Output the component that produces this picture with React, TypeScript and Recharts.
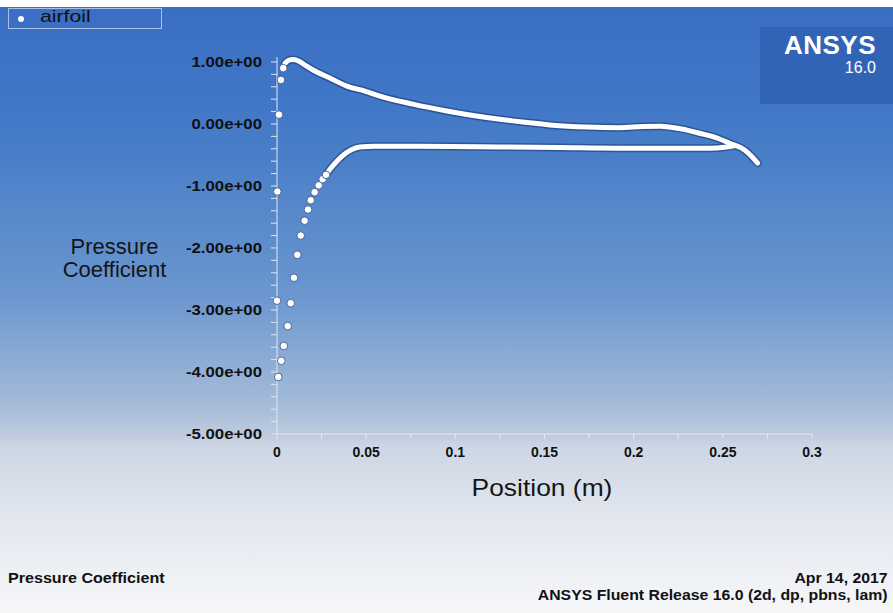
import { ScatterChart, Scatter, XAxis, YAxis } from "recharts";

// leading edge points, drawn as separate dots (x in m, Cp)
const leadingEdgeDots = [
  { x: 0.0035, y: 0.9 },
  { x: 0.0022, y: 0.71 },
  { x: 0.0011, y: 0.15 },
  { x: 0.0002, y: -1.09 },
  { x: 0.0, y: -2.85 },
  { x: 0.0007, y: -4.08 },
  { x: 0.0024, y: -3.82 },
  { x: 0.0038, y: -3.58 },
  { x: 0.006, y: -3.26 },
  { x: 0.0077, y: -2.89 },
  { x: 0.0095, y: -2.48 },
  { x: 0.0114, y: -2.11 },
  { x: 0.0133, y: -1.8 },
  { x: 0.0155, y: -1.56 },
  { x: 0.0174, y: -1.38 },
  { x: 0.0189, y: -1.23 },
  { x: 0.0211, y: -1.1 },
  { x: 0.0234, y: -0.99 },
  { x: 0.0256, y: -0.89 },
  { x: 0.0275, y: -0.82 },
];

// dense part of the lower (suction) curve
const suctionSide = [
  { x: 0.0275, y: -0.82 },
  { x: 0.0297, y: -0.73 },
  { x: 0.0336, y: -0.6 },
  { x: 0.0381, y: -0.48 },
  { x: 0.042, y: -0.41 },
  { x: 0.0465, y: -0.37 },
  { x: 0.0549, y: -0.36 },
  { x: 0.0801, y: -0.36 },
  { x: 0.1249, y: -0.37 },
  { x: 0.1585, y: -0.38 },
  { x: 0.1922, y: -0.39 },
  { x: 0.2258, y: -0.39 },
  { x: 0.2426, y: -0.39 },
  { x: 0.2521, y: -0.37 },
  { x: 0.2566, y: -0.35 },
];

// dense part of the upper (pressure) curve, including the trailing edge
const pressureSide = [
  { x: 0.0045, y: 0.98 },
  { x: 0.0067, y: 1.03 },
  { x: 0.009, y: 1.04 },
  { x: 0.0118, y: 1.02 },
  { x: 0.0157, y: 0.95 },
  { x: 0.0202, y: 0.87 },
  { x: 0.0297, y: 0.74 },
  { x: 0.0392, y: 0.61 },
  { x: 0.0493, y: 0.53 },
  { x: 0.0577, y: 0.45 },
  { x: 0.0762, y: 0.32 },
  { x: 0.0952, y: 0.21 },
  { x: 0.1137, y: 0.12 },
  { x: 0.1322, y: 0.05 },
  { x: 0.1417, y: 0.02 },
  { x: 0.1546, y: -0.02 },
  { x: 0.1737, y: -0.05 },
  { x: 0.1922, y: -0.06 },
  { x: 0.205, y: -0.04 },
  { x: 0.215, y: -0.035 },
  { x: 0.2269, y: -0.08 },
  { x: 0.237, y: -0.15 },
  { x: 0.2471, y: -0.23 },
  { x: 0.2538, y: -0.31 },
  { x: 0.2622, y: -0.42 },
  { x: 0.2661, y: -0.52 },
  { x: 0.2695, y: -0.63 },
];

const xTicks = [0, 0.025, 0.05, 0.075, 0.1, 0.125, 0.15, 0.175, 0.2, 0.225, 0.25, 0.275, 0.3];
const yTicks = [
  -5, -4.8, -4.6, -4.4, -4.2, -4, -3.8, -3.6, -3.4, -3.2, -3, -2.8, -2.6, -2.4, -2.2, -2,
  -1.8, -1.6, -1.4, -1.2, -1, -0.8, -0.6, -0.4, -0.2, 0, 0.2, 0.4, 0.6, 0.8, 1,
];

const FONT = "Arial, 'Liberation Sans', sans-serif";

const isMultiple = (v: number, step: number) =>
  Math.abs(v / step - Math.round(v / step)) < 1e-6;

const formatY = (v: number) => {
  if (!isMultiple(v, 1)) return "";
  const n = Math.round(v);
  const sign = n < 0 ? "-" : "";
  return `${sign}${Math.abs(n)}.00e+00`;
};

const formatX = (v: number) => (isMultiple(v, 0.05) ? String(+v.toFixed(3)) : "");

const noDot = () => <g />;
const whiteDot = (p: any) => (
  <circle cx={p.cx} cy={p.cy} r={3.8} fill="#ffffff" stroke="#2b4f8c" strokeWidth={0.8} />
);

const YTick = (p: any) => {
  const label = formatY(p.payload.value);
  if (!label) return <g />;
  return (
    <g transform={`translate(${p.x},${p.y})`}>
      <text
        transform="scale(1.2,1)"
        textAnchor="end"
        dy="0.36em"
        fill="#111"
        fontSize={14}
        fontWeight="bold"
        fontFamily={FONT}
      >
        {label}
      </text>
    </g>
  );
};

const xTickStyle = { fill: "#111", fontSize: 14, fontWeight: "bold", fontFamily: FONT };

const lineShadow = { stroke: "#12306a", strokeWidth: 8, strokeOpacity: 0.5, strokeLinecap: "round" };
const lineWhite = { stroke: "#ffffff", strokeWidth: 5, strokeLinecap: "round" };

export default function App() {
  return (
    <div style={{ position: "absolute", left: 0, top: 0, width: 893, height: 613, overflow: "hidden", fontFamily: FONT }}>
      <div
        style={{
          position: "absolute",
          left: 0,
          top: 7,
          width: 893,
          height: 606,
          background:
            "linear-gradient(to bottom, #3a6ec4 0%, #4177c7 16%, #4a7fc8 25%, #6c97cf 48%, #a3bad8 65%, #bdcadd 70.5%, #cdd6e4 72.5%, #e3e7ef 85%, #f6f7f9 100%)",
        }}
      />
      <div
        style={{
          position: "absolute",
          left: 760,
          top: 27,
          width: 133,
          height: 77,
          background: "#3264b6",
        }}
      />
      <div style={{ position: "absolute", right: 17, top: 30, color: "#fff", fontWeight: "bold", fontSize: 26, letterSpacing: 0.5 }}>
        ANSYS
      </div>
      <div style={{ position: "absolute", right: 17, top: 59, color: "#fff", fontSize: 16 }}>16.0</div>

      <div style={{ position: "absolute", left: 0, top: 0 }}>
        <ScatterChart width={893} height={613} margin={{ top: 57, right: 81, bottom: 149, left: 197 }}>
          <XAxis
            type="number"
            dataKey="x"
            domain={[0, 0.3]}
            ticks={xTicks}
            interval={0}
            tickFormatter={formatX}
            height={30}
            stroke="#e4ebf4"
            tickSize={5}
            tickMargin={8}
            tick={xTickStyle}
          />
          <YAxis
            type="number"
            dataKey="y"
            domain={[-5, 1.08]}
            ticks={yTicks}
            interval={0}
            width={80}
            stroke="#dde6f2"
            tickSize={6}
            tickMargin={9}
            tick={YTick}
          />
          <Scatter data={pressureSide} fill="#fff" shape={noDot} line={lineShadow} lineJointType="monotoneX" isAnimationActive={false} />
          <Scatter data={suctionSide} fill="#fff" shape={noDot} line={lineShadow} lineJointType="monotoneX" isAnimationActive={false} />
          <Scatter data={pressureSide} fill="#fff" shape={noDot} line={lineWhite} lineJointType="monotoneX" isAnimationActive={false} />
          <Scatter data={suctionSide} fill="#fff" shape={noDot} line={lineWhite} lineJointType="monotoneX" isAnimationActive={false} />
          <Scatter data={leadingEdgeDots} fill="#fff" shape={whiteDot} isAnimationActive={false} />
        </ScatterChart>
      </div>

      {/* legend */}
      <div
        style={{
          position: "absolute",
          left: 8,
          top: 8,
          width: 152,
          height: 19,
          border: "1px solid #a9c0e6",
        }}
      >
        <div style={{ position: "absolute", left: 9, top: 7, width: 6, height: 6, borderRadius: 3, background: "#fff" }} />
        <div
          style={{
            position: "absolute",
            left: 31,
            top: -2,
            fontSize: 17,
            color: "#111",
            transform: "scaleX(1.25)",
            transformOrigin: "left center",
          }}
        >
          airfoil
        </div>
      </div>

      {/* axis titles */}
      <div style={{ position: "absolute", left: 52, top: 235, width: 125, textAlign: "center", fontSize: 22, lineHeight: "23px", color: "#151515" }}>
        Pressure
        <br />
        Coefficient
      </div>
      <div
        style={{
          position: "absolute",
          left: 442,
          top: 474,
          width: 200,
          textAlign: "center",
          fontSize: 24,
          color: "#151515",
          transform: "scaleX(1.1)",
          transformOrigin: "center",
        }}
      >
        Position (m)
      </div>

      {/* footer */}
      <div
        style={{
          position: "absolute",
          left: 8,
          top: 570,
          fontSize: 14,
          fontWeight: "bold",
          color: "#111",
          transform: "scaleX(1.15)",
          transformOrigin: "left center",
        }}
      >
        Pressure Coefficient
      </div>
      <div
        style={{
          position: "absolute",
          right: 5,
          top: 570,
          fontSize: 14,
          fontWeight: "bold",
          color: "#111",
          textAlign: "right",
          lineHeight: "17px",
          transform: "scaleX(1.13)",
          transformOrigin: "right center",
        }}
      >
        Apr 14, 2017
        <br />
        ANSYS Fluent Release 16.0 (2d, dp, pbns, lam)
      </div>
    </div>
  );
}
